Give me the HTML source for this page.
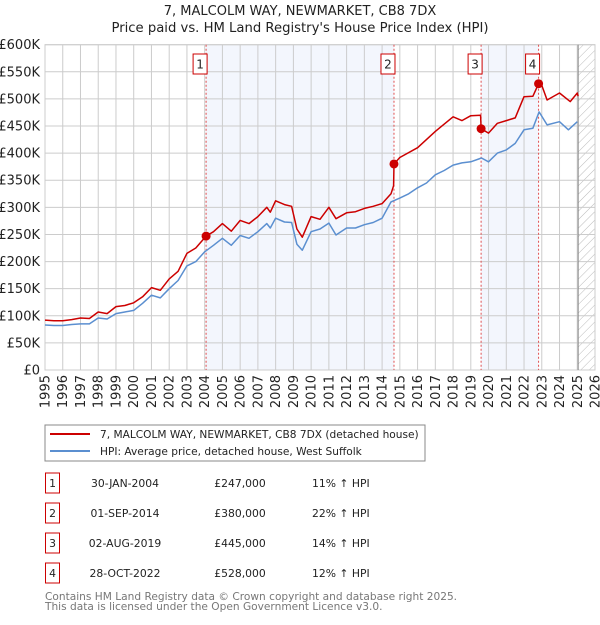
<!DOCTYPE html>
<html><head><meta charset="utf-8"><style>
body{margin:0;background:#fff;font-family:"Liberation Sans","DejaVu Sans",sans-serif;}
svg text{font-family:"DejaVu Sans","Liberation Sans",sans-serif;}
</style></head><body>
<svg id="chart" width="600" height="620" viewBox="0 0 600 620" xmlns="http://www.w3.org/2000/svg">
<defs><pattern id="hatch" width="6" height="6" patternUnits="userSpaceOnUse" patternTransform="rotate(45)"><line x1="0" y1="0" x2="0" y2="6" stroke="#bbb" stroke-width="1"/></pattern></defs>
<text x="300" y="15" text-anchor="middle" font-size="13" fill="#222">7, MALCOLM WAY, NEWMARKET, CB8 7DX</text>
<text x="300" y="32" text-anchor="middle" font-size="13.2" fill="#222">Price paid vs. HM Land Registry's House Price Index (HPI)</text>
<g id="plot"></g>
<g>
<rect x="45" y="425" width="380" height="36" fill="#fff" stroke="#888"/>
<line x1="50" y1="434" x2="90" y2="434" stroke="#cc0000" stroke-width="2"/>
<text x="100" y="438" font-size="10.6" fill="#222">7, MALCOLM WAY, NEWMARKET, CB8 7DX (detached house)</text>
<line x1="50" y1="451" x2="90" y2="451" stroke="#5b8fd0" stroke-width="2"/>
<text x="100" y="455" font-size="10.6" fill="#222">HPI: Average price, detached house, West Suffolk</text>
</g>
<g id="table"></g>
<text x="45" y="600" font-size="10.6" fill="#777">Contains HM Land Registry data © Crown copyright and database right 2025.</text>
<text x="45" y="610" font-size="10.6" fill="#777">This data is licensed under the Open Government Licence v3.0.</text>
</svg>
<script>
const hpiYears=[1995,1995.5,1996,1996.5,1997,1997.5,1998,1998.5,1999,1999.5,2000,2000.5,2001,2001.5,2002,2002.5,2003,2003.5,2004,2004.5,2005,2005.5,2006,2006.5,2007,2007.5,2007.7,2008,2008.5,2008.9,2009.2,2009.5,2010,2010.5,2011,2011.4,2012,2012.5,2013,2013.5,2014,2014.5,2015,2015.5,2016,2016.5,2017,2017.5,2018,2018.5,2019,2019.6,2020,2020.5,2021,2021.5,2022,2022.5,2022.85,2023.3,2024,2024.5,2025];
const hpiValues=[83,82,82,84,85,85,96,94,104,107,110,123,138,133,150,165,192,200,218,230,243,230,248,243,255,270,262,280,273,272,232,221,255,260,271,249,262,262,268,272,280,310,317,325,336,345,360,368,378,382,384,391,384,400,406,418,443,446,476,452,458,443,458];
const priceYears=[1995,1995.5,1996,1996.5,1997,1997.5,1998,1998.5,1999,1999.5,2000,2000.5,2001,2001.5,2002,2002.5,2003,2003.5,2004.08,2004.5,2005,2005.5,2006,2006.5,2007,2007.5,2007.7,2008,2008.5,2008.9,2009.2,2009.5,2010,2010.5,2011,2011.4,2012,2012.5,2013,2013.5,2014,2014.5,2014.65,2014.67,2015,2016,2017,2018,2018.5,2019,2019.55,2019.58,2020,2020.5,2021,2021.5,2022,2022.5,2022.82,2023,2023.3,2024,2024.6,2025,2025.05];
const priceValues=[92,91,91,93,96,95,107,104,117,119,124,135,152,147,168,182,215,225,247,255,270,256,276,270,283,300,291,312,305,302,260,245,283,278,300,279,290,292,298,302,307,325,340,380,392,410,440,467,460,469,470,445,437,455,460,465,504,505,528,525,498,511,495,511,505];
const saleYears=[2004.08,2014.67,2019.58,2022.82];
const saleValues=[247,380,445,528];
const saleLabels=["1","2","3","4"];
const saleDates=["30-JAN-2004","01-SEP-2014","02-AUG-2019","28-OCT-2022"];
const salePrices=["£247,000","£380,000","£445,000","£528,000"];
const saleDiffs=["11% ↑ HPI","22% ↑ HPI","14% ↑ HPI","12% ↑ HPI"];
const yTicks=[0,50,100,150,200,250,300,350,400,450,500,550,600];
const xTicks=[1995,1996,1997,1998,1999,2000,2001,2002,2003,2004,2005,2006,2007,2008,2009,2010,2011,2012,2013,2014,2015,2016,2017,2018,2019,2020,2021,2022,2023,2024,2025,2026];

const NS="http://www.w3.org/2000/svg";
const X0=45,X1=595,Y0=370,Y1=44.7;
const xs=y=>X0+(y-1995)/(2026-1995)*(X1-X0);
const ys=v=>Y0-v/600*(Y0-Y1);
const plot=document.getElementById('plot');
function mk(tag,attrs,parent){const e=document.createElementNS(NS,tag);for(const k in attrs)e.setAttribute(k,attrs[k]);(parent||plot).appendChild(e);return e;}
for(const [a,b] of [[0,1],[2,3]]){
 const r=mk('rect',{x:xs(saleYears[a]),y:Y1,width:xs(saleYears[b])-xs(saleYears[a]),height:Y0-Y1,fill:'#f3f6fd'});
 
 
}
const hx=xs(2025.05);
const h=mk('rect',{x:hx,y:Y1,width:X1-hx,height:Y0-Y1,fill:'url(#hatch)'});


for(const t of yTicks){
 mk('line',{x1:X0,x2:X1,y1:ys(t),y2:ys(t),stroke:'#ccc','stroke-width':1});
 const l=mk('text',{x:40,y:ys(t)+4.5,'text-anchor':'end','font-size':13,fill:'#222'});
 l.textContent=t===0?'£0':'£'+t+'K';
 
 
}
for(const t of xTicks){
 mk('line',{x1:xs(t),x2:xs(t),y1:Y1,y2:Y0,stroke:'#ccc','stroke-width':1});
 const l=mk('text',{x:0,y:0,'text-anchor':'end','font-size':13,fill:'#222',transform:`translate(${xs(t)+4.5},375) rotate(-90)`});
 l.textContent=t;
 
 
}
mk('rect',{x:X0,y:Y1,width:X1-X0,height:Y0-Y1,fill:'none',stroke:'#ccc'});
mk('line',{x1:hx,x2:hx,y1:Y1,y2:Y0,stroke:'#888','stroke-width':1});
saleYears.forEach((sy,i)=>{
 const v=mk('line',{x1:xs(sy),x2:xs(sy),y1:Y1,y2:Y0,stroke:'#e05050','stroke-width':1,'stroke-dasharray':'2,2'});
 
 
});
function path(xv,yv,color,name){
 const d=xv.map((x,i)=>(i?'L':'M')+xs(x).toFixed(1)+','+ys(yv[i]).toFixed(1)).join('');
 const p=mk('path',{d:d,fill:'none',stroke:color,'stroke-width':1.5,'stroke-linejoin':'round'});
 
 
}
path(hpiYears,hpiValues,'#5b8fd0','hpi-line');
path(priceYears,priceValues,'#cc0000','price-line');
saleYears.forEach((sy,i)=>{
 const c=mk('circle',{cx:xs(sy),cy:ys(saleValues[i]),r:4.5,fill:'#cc0000'});
 
 
 const b=mk('rect',{x:xs(sy)-13,y:54,width:14,height:20,fill:'#fff',stroke:'#cc0000'});
 
 
 const t=mk('text',{x:xs(sy)-6,y:68.5,'text-anchor':'middle','font-size':12,fill:'#222'});
 t.textContent=saleLabels[i];
 
 
});
const tbl=document.getElementById('table');
saleLabels.forEach((s,i)=>{
 const cy=483+i*30;
 const b=mk('rect',{x:45.5,y:cy-10,width:14,height:20,fill:'#fff',stroke:'#cc0000'},tbl);
 
 
 const cells=[[52.5,s,'middle'],[125,saleDates[i],'middle'],[240,salePrices[i],'middle'],[312,saleDiffs[i],'start']];
 cells.forEach(([x,txt,anc],j)=>{
  const t=mk('text',{x:x,y:cy+4,'text-anchor':anc,'font-size':10.8,fill:'#222'},tbl);
  t.textContent=txt;
  
  
 });
});
</script>
</body></html>
